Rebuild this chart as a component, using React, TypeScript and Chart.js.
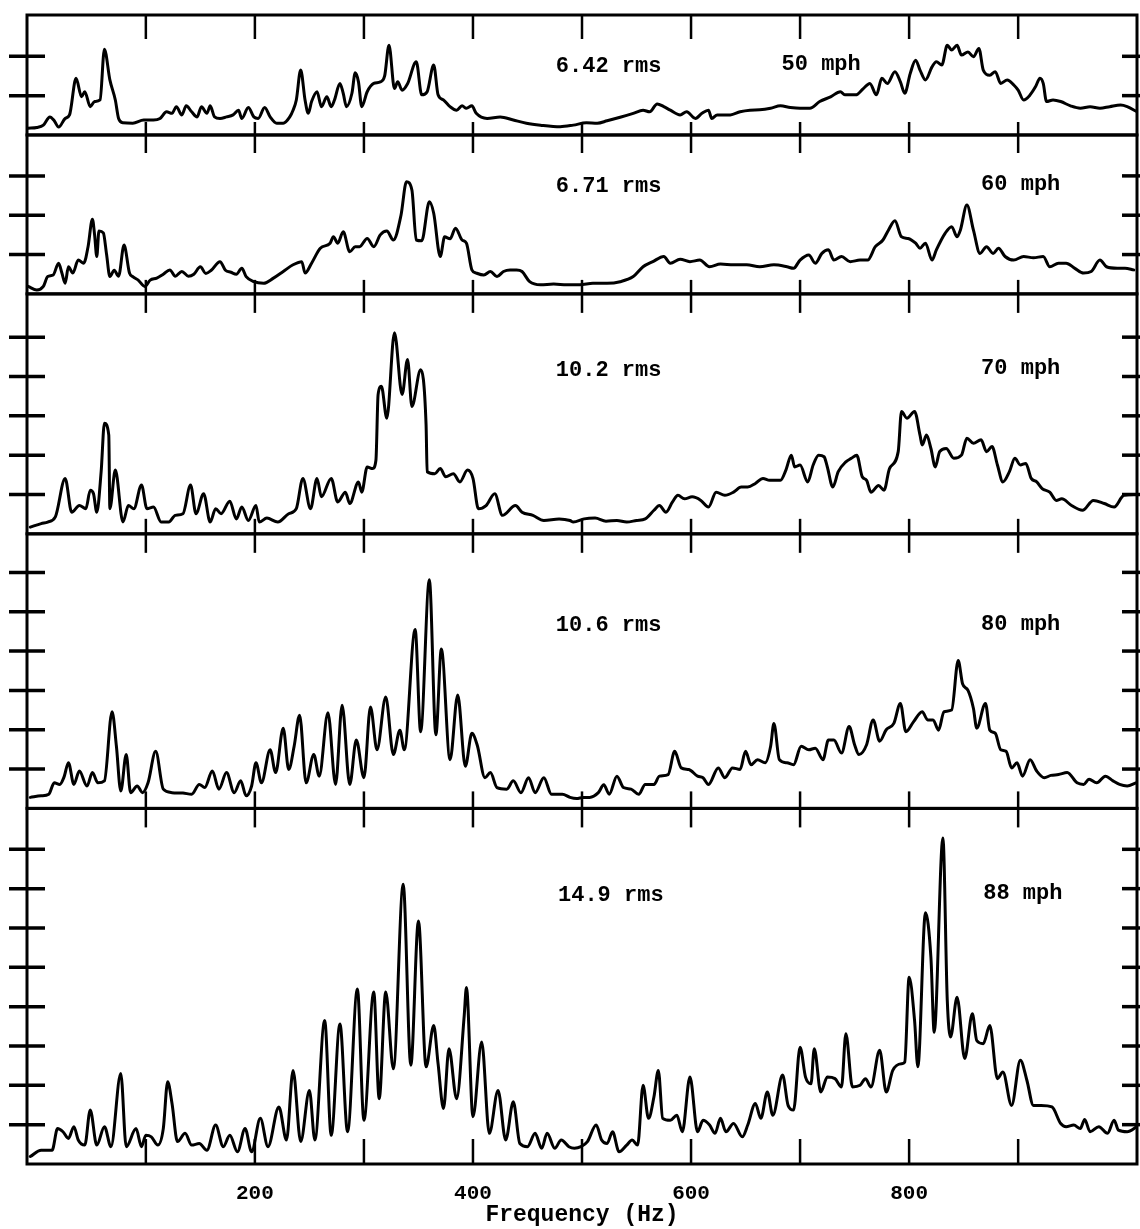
import React, { useEffect, useRef } from "react";
import { Chart, registerables } from "chart.js";

Chart.register(...registerables);

// ---------- data ----------
const SPEED_LABELS = ["50 mph", "60 mph", "70 mph", "80 mph", "88 mph"];
const RMS_LABELS = ["6.42 rms", "6.71 rms", "10.2 rms", "10.6 rms", "14.9 rms"];
const PANEL_MAX = [3.05, 4.04, 6.1, 6.98, 9.04];
const FREQ_TICKS = [100, 200, 300, 400, 500, 600, 700, 800, 900];
const FREQ_LABELS = [200, 400, 600, 800];
const X_MIN = -9;
const X_MAX = 1009;

// [frequency Hz, amplitude] pairs
const spectrum50: [number, number][] = [
  [-8, 0.17], [0, 0.19], [6, 0.25], [12, 0.46], [16, 0.36], [20, 0.2], [26, 0.42], [30, 0.51], [36, 1.44], [41, 0.97],
  [44, 1.1], [49, 0.72], [53, 0.85], [58, 0.89], [62, 2.18], [67, 1.4], [72, 0.89], [75, 0.42], [79, 0.31], [88, 0.3],
  [98, 0.38], [107, 0.38], [113, 0.42], [119, 0.59], [124, 0.55], [128, 0.72], [133, 0.51], [137, 0.74], [142, 0.59], [147, 0.46],
  [151, 0.72], [156, 0.55], [159, 0.74], [163, 0.46], [168, 0.42], [174, 0.46], [180, 0.51], [185, 0.63], [188, 0.42], [194, 0.7],
  [199, 0.46], [203, 0.42], [209, 0.7], [214, 0.46], [220, 0.3], [226, 0.3], [232, 0.46], [235, 0.63], [238, 0.89], [242, 1.65],
  [246, 0.89], [249, 0.55], [252, 0.85], [257, 1.1], [261, 0.72], [266, 0.97], [270, 0.72], [273, 0.89], [278, 1.31], [281, 1.06],
  [284, 0.72], [289, 1.06], [292, 1.58], [295, 1.35], [298, 0.72], [303, 1.1], [309, 1.31], [315, 1.35], [319, 1.5], [323, 2.28],
  [328, 1.18], [331, 1.35], [335, 1.14], [340, 1.3], [348, 1.86], [353, 1.02], [358, 1.1], [364, 1.78], [368, 1.02], [373, 0.89],
  [379, 0.72], [385, 0.63], [390, 0.74], [394, 0.68], [399, 0.74], [403, 0.55], [413, 0.42], [425, 0.46], [437, 0.38], [449, 0.3],
  [462, 0.25], [480, 0.21], [492, 0.25], [504, 0.31], [514, 0.3], [523, 0.36], [535, 0.45], [547, 0.55], [556, 0.63], [562, 0.59],
  [569, 0.79], [575, 0.72], [581, 0.63], [590, 0.51], [596, 0.59], [604, 0.42], [610, 0.55], [616, 0.63], [619, 0.42], [624, 0.51],
  [636, 0.51], [645, 0.59], [654, 0.63], [663, 0.64], [673, 0.68], [682, 0.74], [691, 0.7], [700, 0.68], [709, 0.68], [718, 0.85],
  [728, 0.97], [737, 1.1], [741, 1.02], [751, 1.02], [758, 1.18], [764, 1.31], [770, 1.02], [775, 1.44], [780, 1.31], [787, 1.61],
  [792, 1.35], [796, 1.06], [801, 1.56], [806, 1.9], [810, 1.65], [815, 1.4], [821, 1.73], [825, 1.86], [830, 1.78], [835, 2.28],
  [839, 2.16], [844, 2.28], [848, 2.03], [854, 2.11], [859, 1.99], [864, 2.2], [868, 1.65], [874, 1.52], [879, 1.61], [884, 1.31],
  [890, 1.4], [896, 1.27], [900, 1.14], [905, 0.89], [911, 1.02], [916, 1.23], [920, 1.44], [923, 1.31], [926, 0.85], [932, 0.89],
  [939, 0.85], [948, 0.74], [957, 0.68], [966, 0.72], [975, 0.68], [984, 0.72], [994, 0.76], [1000, 0.72], [1009, 0.59],
];

const spectrum60: [number, number][] = [
  [-8, 0.19], [0, 0.1], [6, 0.19], [10, 0.44], [15, 0.48], [20, 0.78], [23, 0.53], [26, 0.27], [29, 0.69], [33, 0.53],
  [38, 0.86], [43, 0.78], [47, 1.2], [51, 1.9], [53, 1.5], [55, 0.95], [57, 1.6], [61, 1.55], [64, 1.0], [67, 0.44],
  [71, 0.6], [75, 0.45], [80, 1.24], [85, 0.53], [88, 0.44], [93, 0.35], [99, 0.19], [104, 0.35], [110, 0.4], [116, 0.5],
  [122, 0.61], [127, 0.45], [133, 0.57], [139, 0.45], [144, 0.5], [150, 0.69], [155, 0.52], [160, 0.6], [168, 0.82], [173, 0.6],
  [178, 0.55], [183, 0.5], [188, 0.65], [192, 0.44], [199, 0.31], [208, 0.27], [217, 0.4], [226, 0.57], [235, 0.74], [243, 0.82],
  [246, 0.53], [252, 0.78], [260, 1.16], [269, 1.29], [272, 1.45], [276, 1.29], [281, 1.58], [287, 1.07], [292, 1.2], [296, 1.2],
  [303, 1.41], [309, 1.2], [315, 1.5], [321, 1.6], [327, 1.37], [334, 2.0], [339, 2.85], [344, 2.64], [348, 1.37], [353, 1.35],
  [360, 2.34], [364, 2.05], [370, 0.95], [374, 1.45], [379, 1.4], [384, 1.67], [390, 1.37], [394, 1.29], [399, 0.61], [403, 0.53],
  [410, 0.48], [416, 0.57], [422, 0.44], [428, 0.57], [434, 0.61], [440, 0.61], [445, 0.57], [452, 0.31], [462, 0.23], [474, 0.25],
  [486, 0.23], [498, 0.23], [510, 0.27], [523, 0.27], [535, 0.31], [547, 0.44], [556, 0.69], [565, 0.82], [575, 0.95], [581, 0.78],
  [590, 0.88], [599, 0.82], [608, 0.86], [617, 0.69], [627, 0.76], [639, 0.74], [651, 0.74], [663, 0.69], [676, 0.74], [688, 0.69],
  [694, 0.65], [700, 0.86], [708, 0.99], [714, 0.78], [720, 1.03], [726, 1.12], [731, 0.86], [738, 0.95], [746, 0.82], [755, 0.86],
  [762, 0.86], [769, 1.2], [776, 1.37], [781, 1.62], [787, 1.86], [793, 1.45], [799, 1.41], [806, 1.29], [810, 1.16], [815, 1.29],
  [821, 0.86], [825, 1.12], [833, 1.54], [839, 1.71], [844, 1.45], [847, 1.62], [853, 2.26], [859, 1.62], [865, 1.03], [871, 1.2],
  [877, 1.03], [882, 1.16], [888, 0.95], [896, 0.86], [905, 0.95], [914, 0.92], [923, 0.95], [929, 0.69], [937, 0.78], [944, 0.78],
  [952, 0.65], [960, 0.53], [967, 0.57], [975, 0.86], [981, 0.69], [991, 0.65], [998, 0.65], [1006, 0.61],
];

const spectrum70: [number, number][] = [
  [-6, 0.17], [4, 0.26], [10, 0.3], [17, 0.43], [26, 1.41], [32, 0.55], [39, 0.72], [45, 0.64], [49, 1.11], [52, 1.02],
  [55, 0.55], [59, 1.58], [62, 2.81], [66, 2.51], [67, 0.64], [72, 1.62], [79, 0.3], [84, 0.72], [89, 0.64], [96, 1.24],
  [101, 0.64], [107, 0.68], [114, 0.3], [121, 0.3], [127, 0.47], [134, 0.51], [141, 1.24], [146, 0.51], [153, 1.02], [159, 0.3],
  [164, 0.64], [169, 0.51], [177, 0.83], [183, 0.38], [188, 0.68], [194, 0.34], [201, 0.72], [204, 0.3], [211, 0.4], [221, 0.3],
  [231, 0.51], [238, 0.64], [244, 1.41], [251, 0.64], [257, 1.41], [261, 0.94], [270, 1.41], [276, 0.81], [283, 1.06], [287, 0.77],
  [295, 1.32], [298, 1.06], [303, 1.7], [308, 1.66], [311, 1.87], [313, 3.54], [316, 3.75], [321, 2.94], [328, 5.11], [335, 3.54],
  [340, 4.43], [344, 3.24], [352, 4.17], [357, 2.77], [358, 1.58], [365, 1.53], [370, 1.66], [375, 1.45], [382, 1.53], [388, 1.32],
  [395, 1.62], [400, 1.41], [405, 0.64], [412, 0.72], [420, 1.02], [427, 0.47], [439, 0.72], [445, 0.55], [455, 0.47], [465, 0.34],
  [479, 0.38], [489, 0.34], [492, 0.3], [502, 0.38], [512, 0.4], [522, 0.32], [532, 0.34], [541, 0.3], [550, 0.34], [558, 0.38],
  [566, 0.6], [571, 0.72], [577, 0.55], [583, 0.81], [588, 0.98], [594, 0.89], [601, 0.94], [609, 0.85], [616, 0.68], [623, 1.06],
  [631, 0.98], [639, 1.06], [646, 1.19], [652, 1.19], [659, 1.28], [666, 1.41], [672, 1.36], [682, 1.36], [687, 1.62], [692, 2.0],
  [695, 1.7], [700, 1.75], [707, 1.32], [712, 1.75], [717, 2.0], [722, 1.96], [725, 1.7], [730, 1.19], [735, 1.58], [742, 1.83],
  [747, 1.92], [752, 2.0], [757, 1.45], [761, 1.36], [765, 1.06], [772, 1.23], [777, 1.11], [782, 1.66], [790, 2.09], [793, 3.11],
  [798, 2.94], [805, 3.11], [810, 2.51], [812, 2.26], [816, 2.51], [820, 2.17], [824, 1.7], [828, 2.09], [834, 2.17], [841, 1.92],
  [848, 2.0], [853, 2.43], [859, 2.3], [866, 2.39], [871, 2.09], [876, 2.22], [881, 1.75], [886, 1.32], [892, 1.58], [897, 1.92],
  [902, 1.75], [907, 1.79], [912, 1.41], [917, 1.32], [922, 1.15], [929, 1.06], [935, 0.85], [940, 0.89], [949, 0.72], [959, 0.6],
  [969, 0.85], [979, 0.77], [988, 0.68], [997, 0.98], [1008, 1.0],
];

const spectrum80: [number, number][] = [
  [-6, 0.28], [4, 0.32], [11, 0.36], [16, 0.65], [21, 0.61], [25, 0.8], [29, 1.16], [34, 0.61], [39, 0.95], [46, 0.57],
  [51, 0.91], [56, 0.65], [62, 0.7], [69, 2.46], [73, 1.58], [77, 0.44], [82, 1.37], [86, 0.4], [92, 0.57], [97, 0.4],
  [102, 0.65], [109, 1.45], [116, 0.49], [124, 0.4], [134, 0.39], [142, 0.36], [149, 0.61], [154, 0.53], [161, 0.95], [167, 0.49],
  [174, 0.91], [181, 0.4], [187, 0.7], [192, 0.32], [197, 0.57], [201, 1.16], [206, 0.65], [214, 1.49], [219, 0.91], [226, 2.04],
  [231, 0.99], [236, 1.58], [241, 2.37], [247, 0.65], [254, 1.37], [259, 0.82], [267, 2.43], [274, 0.61], [280, 2.62], [287, 0.61],
  [293, 1.74], [300, 0.78], [306, 2.58], [312, 1.49], [320, 2.83], [327, 1.37], [333, 1.99], [337, 1.49], [347, 4.55], [352, 1.95],
  [360, 5.81], [366, 1.87], [371, 4.05], [379, 1.24], [386, 2.88], [393, 1.07], [399, 1.91], [404, 1.6], [411, 0.78], [416, 0.91],
  [422, 0.53], [431, 0.49], [437, 0.7], [444, 0.4], [451, 0.78], [457, 0.4], [465, 0.78], [472, 0.36], [482, 0.36], [489, 0.28],
  [495, 0.25], [501, 0.28], [507, 0.28], [515, 0.4], [520, 0.6], [525, 0.36], [532, 0.82], [538, 0.53], [545, 0.49], [552, 0.36],
  [558, 0.61], [566, 0.61], [571, 0.82], [579, 0.86], [585, 1.45], [591, 1.03], [598, 0.99], [606, 0.82], [611, 0.78], [616, 0.61],
  [625, 1.03], [631, 0.78], [638, 1.03], [645, 0.99], [650, 1.45], [655, 1.11], [661, 1.24], [668, 1.16], [673, 1.58], [676, 2.16],
  [681, 1.24], [688, 1.16], [694, 1.11], [701, 1.58], [708, 1.49], [714, 1.53], [721, 1.24], [726, 1.74], [731, 1.74], [738, 1.41],
  [745, 2.08], [750, 1.62], [754, 1.37], [761, 1.62], [767, 2.25], [773, 1.71], [779, 2.0], [786, 2.16], [792, 2.67], [797, 1.95],
  [804, 2.2], [812, 2.46], [817, 2.25], [822, 2.25], [827, 1.99], [832, 2.46], [839, 2.5], [845, 3.76], [849, 3.17], [854, 3.0],
  [859, 2.54], [862, 2.04], [870, 2.67], [874, 1.99], [879, 1.91], [884, 1.49], [889, 1.45], [894, 1.03], [899, 1.16], [904, 0.82],
  [911, 1.24], [917, 0.95], [924, 0.78], [930, 0.84], [937, 0.86], [945, 0.91], [954, 0.65], [960, 0.61], [965, 0.74], [972, 0.65],
  [980, 0.82], [987, 0.7], [993, 0.61], [1000, 0.57], [1008, 0.65],
];

const spectrum88: [number, number][] = [
  [-6, 0.19], [4, 0.35], [14, 0.35], [19, 0.9], [24, 0.82], [29, 0.65], [34, 0.95], [38, 0.61], [44, 0.48], [49, 1.37],
  [55, 0.48], [62, 0.95], [68, 0.44], [77, 2.3], [82, 0.44], [91, 0.9], [96, 0.44], [100, 0.73], [105, 0.69], [111, 0.48],
  [116, 0.9], [120, 2.09], [124, 1.54], [129, 0.57], [136, 0.78], [142, 0.48], [149, 0.52], [156, 0.35], [164, 0.99], [171, 0.44],
  [177, 0.73], [184, 0.31], [191, 0.9], [197, 0.31], [205, 1.16], [212, 0.44], [222, 1.45], [229, 0.61], [235, 2.38], [242, 0.57],
  [250, 1.87], [255, 0.61], [264, 3.65], [270, 0.73], [278, 3.56], [285, 0.82], [294, 4.45], [300, 1.11], [309, 4.37], [314, 1.66],
  [320, 4.37], [327, 2.42], [336, 7.11], [343, 2.51], [350, 6.18], [357, 2.47], [364, 3.52], [368, 2.55], [373, 1.41], [378, 2.93],
  [385, 1.66], [392, 3.78], [394, 4.49], [400, 1.2], [408, 3.1], [415, 0.78], [423, 1.87], [430, 0.61], [437, 1.58], [443, 0.52],
  [450, 0.44], [457, 0.78], [463, 0.4], [468, 0.78], [475, 0.4], [481, 0.61], [488, 0.44], [493, 0.4], [499, 0.44], [505, 0.57],
  [513, 0.99], [518, 0.61], [523, 0.52], [528, 0.82], [534, 0.31], [541, 0.48], [546, 0.61], [551, 0.48], [556, 2.0], [561, 1.16],
  [566, 1.71], [570, 2.38], [574, 1.16], [581, 1.11], [587, 1.24], [592, 0.82], [599, 2.21], [606, 0.82], [611, 1.11], [617, 0.99],
  [622, 0.78], [627, 1.16], [632, 0.82], [639, 1.03], [647, 0.69], [652, 0.99], [659, 1.54], [664, 1.16], [670, 1.83], [675, 1.24],
  [684, 2.26], [689, 1.49], [694, 1.37], [700, 2.97], [705, 2.21], [710, 2.04], [713, 2.93], [719, 1.83], [725, 2.21], [732, 2.17],
  [738, 1.96], [742, 3.31], [748, 1.96], [755, 2.0], [760, 2.17], [765, 1.96], [773, 2.89], [779, 1.83], [785, 2.38], [793, 2.55],
  [796, 2.59], [800, 4.75], [805, 3.65], [808, 2.47], [815, 6.39], [820, 5.25], [823, 3.35], [831, 8.29], [835, 4.16], [838, 3.23],
  [844, 4.24], [851, 2.68], [858, 3.82], [862, 3.14], [868, 3.06], [874, 3.52], [881, 2.17], [886, 2.34], [894, 1.49], [902, 2.64],
  [908, 2.13], [914, 1.49], [921, 1.49], [931, 1.45], [939, 1.03], [944, 0.95], [951, 0.99], [957, 0.9], [961, 1.13], [966, 0.82],
  [974, 0.95], [982, 0.78], [988, 1.11], [992, 0.86], [1000, 0.82], [1009, 0.95],
];

const SPECTRA = [spectrum50, spectrum60, spectrum70, spectrum80, spectrum88];

// annotation anchor points in data units [Hz, amplitude]
const RMS_ANCHOR: [number, number][] = [[476, 1.6], [476, 2.59], [476, 4.01], [476, 4.52], [478, 6.68]];
const MPH_ANCHOR: [number, number][] = [[683, 1.65], [866, 2.64], [866, 4.06], [866, 4.54], [868, 6.73]];
const TOP_TICK_LEN = [24, 18, 19, 19, 19];
const BOTTOM_TICK_LEN = [13, 14, 15, 17, 25];

const LABEL_FONT = 'bold 22px "Liberation Mono", "DejaVu Sans Mono", monospace';

const framePlugin = {
  id: "panelFrames",
  afterDraw(chart: any) {
    const { ctx, chartArea } = chart;
    const xs = chart.scales.x;
    const line = (x1: number, y1: number, x2: number, y2: number) => {
      ctx.beginPath();
      ctx.moveTo(x1, y1);
      ctx.lineTo(x2, y2);
      ctx.stroke();
    };
    ctx.save();
    ctx.strokeStyle = "#000";
    ctx.fillStyle = "#000";
    ctx.lineCap = "butt";
    PANEL_MAX.forEach((m, i) => {
      const ys = chart.scales["y" + i];
      const top = ys.getPixelForValue(m);
      const bottom = ys.getPixelForValue(0);
      ctx.lineWidth = 3;
      ctx.strokeRect(chartArea.left, top, chartArea.right - chartArea.left, bottom - top);
      ctx.lineWidth = 2.5;
      FREQ_TICKS.forEach((f) => {
        const x = xs.getPixelForValue(f);
        line(x, top, x, top + TOP_TICK_LEN[i]);
        line(x, bottom, x, bottom - BOTTOM_TICK_LEN[i]);
      });
      ctx.lineWidth = 3.5;
      for (let v = 1; v < m - 0.3; v++) {
        const y = ys.getPixelForValue(v);
        line(chartArea.left - 18, y, chartArea.left + 18, y);
        line(chartArea.right - 15, y, chartArea.right + 3, y);
      }
      ctx.font = LABEL_FONT;
      ctx.textAlign = "left";
      ctx.textBaseline = "alphabetic";
      ctx.fillText(RMS_LABELS[i], xs.getPixelForValue(RMS_ANCHOR[i][0]), ys.getPixelForValue(RMS_ANCHOR[i][1]));
      ctx.fillText(SPEED_LABELS[i], xs.getPixelForValue(MPH_ANCHOR[i][0]), ys.getPixelForValue(MPH_ANCHOR[i][1]));
    });
    ctx.restore();
  },
};

export default function App() {
  const canvasRef = useRef<HTMLCanvasElement | null>(null);

  useEffect(() => {
    if (!canvasRef.current) return;
    const datasets = SPECTRA.map((s, i) => ({
      label: SPEED_LABELS[i],
      data: s.map(([x, y]) => ({ x, y })),
      yAxisID: "y" + i,
      borderColor: "#000",
      borderWidth: 3,
      pointRadius: 0,
      cubicInterpolationMode: "monotone" as const,
      fill: false,
      borderJoinStyle: "round" as const,
      borderCapStyle: "round" as const,
    }));

    const scales: any = {
      x: {
        type: "linear",
        position: "bottom",
        min: X_MIN,
        max: X_MAX,
        grid: { display: false, drawTicks: false },
        border: { display: false },
        afterBuildTicks: (s: any) => {
          s.ticks = FREQ_LABELS.map((v) => ({ value: v }));
        },
        afterFit: (s: any) => {
          s.height = 65;
        },
        ticks: {
          color: "#000",
          padding: 17,
          maxRotation: 0,
          autoSkip: false,
          font: { family: '"Liberation Mono", monospace', size: 21, weight: "bold" },
          callback: (v: any) => String(v),
        },
        title: {
          display: true,
          text: "Frequency (Hz)",
          color: "#000",
          font: { family: '"Liberation Mono", monospace', size: 23, weight: "bold" },
          padding: { top: 0, bottom: 0 },
        },
      },
    };
    PANEL_MAX.forEach((m, i) => {
      scales["y" + i] = {
        type: "linear",
        position: "left",
        stack: "panels",
        stackWeight: m,
        weight: 10 - i,
        min: 0,
        max: m,
        display: false,
      };
    });

    const chart = new Chart(canvasRef.current, {
      type: "line",
      data: { datasets },
      options: {
        animation: false,
        responsive: false,
        devicePixelRatio: 1,
        layout: { padding: { left: 27, right: 3, top: 15, bottom: 0 } },
        plugins: { legend: { display: false }, tooltip: { enabled: false } },
        scales,
      },
      plugins: [framePlugin],
    } as any);
    return () => chart.destroy();
  }, []);

  return (
    <div style={{ position: "absolute", left: 0, top: 0, width: 1140, height: 1229, background: "#fff" }}>
      <canvas ref={canvasRef} width={1140} height={1229} style={{ display: "block" }} />
    </div>
  );
}
